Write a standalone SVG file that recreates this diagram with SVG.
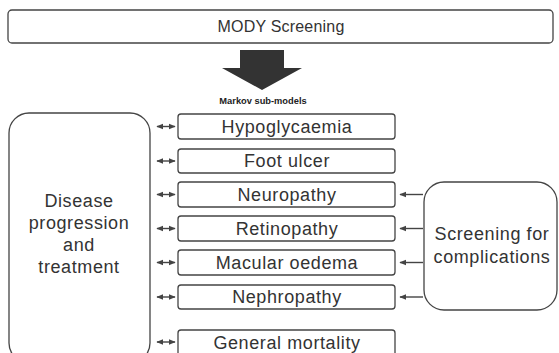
<svg xmlns="http://www.w3.org/2000/svg" width="559" height="353" viewBox="0 0 559 353">
<defs>
<style>
.box{fill:#fff;stroke:#444;stroke-width:1.3}
.t{font-family:"Liberation Sans",Arial,sans-serif;font-size:18px;letter-spacing:0.6px;fill:#333;text-anchor:middle}
.c{stroke:#444;stroke-width:1.4;fill:none}
</style>
<marker id="ah" viewBox="0 0 10 10" refX="9" refY="5" markerWidth="7" markerHeight="7" orient="auto-start-reverse" markerUnits="userSpaceOnUse">
<path d="M0,1 L10,5 L0,9 z" fill="#444"/>
</marker>
</defs>
<rect width="559" height="353" fill="#fff"/>
<g id="mody">
<rect class="box" x="8" y="10" width="545" height="33" rx="4"/>
<text class="t" x="281" y="32" style="font-size:16px;letter-spacing:0.2px">MODY Screening</text>
</g>
<g id="bigarrow">
<path d="M240,50 H284 V68 H302 L262,90 L222,68 H240 Z" fill="#333"/>
<text x="263" y="104" font-family="Liberation Sans,Arial,sans-serif" font-size="9.3" font-weight="bold" fill="#222" text-anchor="middle">Markov sub-models</text>
</g>
<g id="disease">
<rect class="box" x="9" y="113" width="141" height="250" rx="20"/>
<text class="t" x="79" y="207">Disease</text>
<text class="t" x="79" y="229">progression</text>
<text class="t" x="79" y="251">and</text>
<text class="t" x="79" y="273">treatment</text>
</g>
<g id="hypo"><rect class="box" x="178" y="114" width="217" height="25" rx="3"/><text class="t" x="287" y="133">Hypoglycaemia</text></g>
<g id="foot"><rect class="box" x="178" y="149" width="217" height="24" rx="3"/><text class="t" x="287" y="167">Foot ulcer</text></g>
<g id="neuro"><rect class="box" x="178" y="182" width="217" height="25" rx="3"/><text class="t" x="287" y="201">Neuropathy</text></g>
<g id="retino"><rect class="box" x="178" y="216" width="217" height="25" rx="3"/><text class="t" x="287" y="235">Retinopathy</text></g>
<g id="macular"><rect class="box" x="178" y="250" width="217" height="25" rx="3"/><text class="t" x="287" y="269">Macular oedema</text></g>
<g id="nephro"><rect class="box" x="178" y="285" width="217" height="24" rx="3"/><text class="t" x="287" y="303">Nephropathy</text></g>
<g id="mortality"><rect class="box" x="178" y="330" width="217" height="28" rx="3"/><text class="t" x="287" y="349">General mortality</text></g>
<g id="screening">
<rect class="box" x="424" y="182" width="133" height="128" rx="20"/>
<text class="t" x="492" y="240">Screening for</text>
<text class="t" x="492" y="263">complications</text>
</g>
<g id="connectors">
<line class="c" x1="157" y1="126.5" x2="175" y2="126.5" marker-start="url(#ah)" marker-end="url(#ah)"/>
<line class="c" x1="157" y1="161" x2="175" y2="161" marker-start="url(#ah)" marker-end="url(#ah)"/>
<line class="c" x1="157" y1="194.5" x2="175" y2="194.5" marker-start="url(#ah)" marker-end="url(#ah)"/>
<line class="c" x1="157" y1="228.5" x2="175" y2="228.5" marker-start="url(#ah)" marker-end="url(#ah)"/>
<line class="c" x1="157" y1="262.5" x2="175" y2="262.5" marker-start="url(#ah)" marker-end="url(#ah)"/>
<line class="c" x1="157" y1="297" x2="175" y2="297" marker-start="url(#ah)" marker-end="url(#ah)"/>
<line class="c" x1="157" y1="342" x2="175" y2="342" marker-start="url(#ah)" marker-end="url(#ah)"/>
<line class="c" x1="423" y1="194.5" x2="400" y2="194.5" marker-end="url(#ah)"/>
<line class="c" x1="423" y1="228.5" x2="400" y2="228.5" marker-end="url(#ah)"/>
<line class="c" x1="423" y1="262.5" x2="400" y2="262.5" marker-end="url(#ah)"/>
<line class="c" x1="423" y1="297" x2="400" y2="297" marker-end="url(#ah)"/>
</g>
</svg>
